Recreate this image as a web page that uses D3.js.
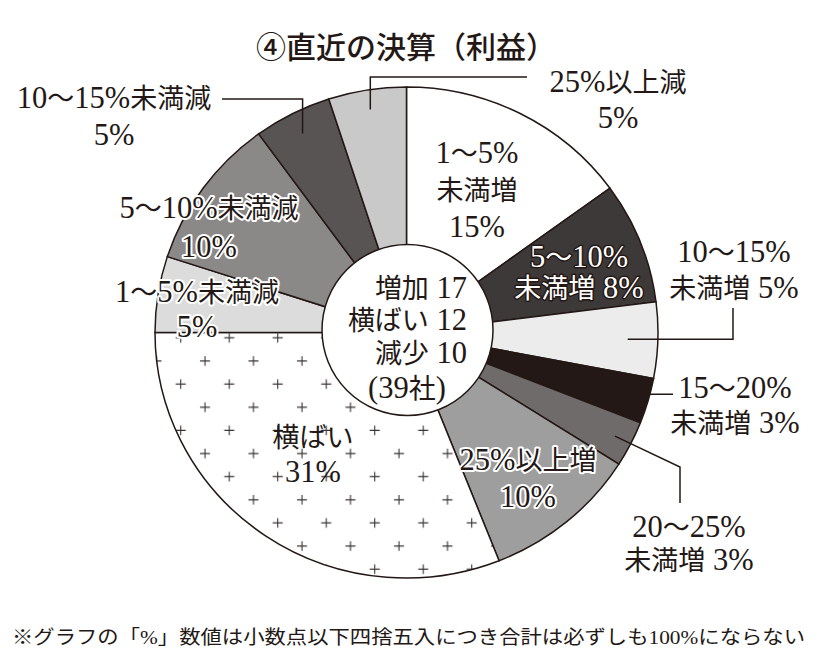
<!DOCTYPE html>
<html><head><meta charset="utf-8">
<script src="https://cdn.jsdelivr.net/npm/d3@7"></script>
<style>
html,body{margin:0;padding:0;background:#fff;}
svg{display:block;}
</style></head>
<body>
<svg id="chart" width="820" height="664"></svg>
<script>
// ---- data ----
const title = "④直近の決算（利益）";
const categories = ["1～5%未満増","5～10%未満増","10～15%未満増","15～20%未満増","20～25%未満増","25%以上増","横ばい","1～5%未満減","5～10%未満減","10～15%未満減","25%以上減"];
const percents = [15, 8, 5, 3, 3, 10, 31, 5, 10, 5, 5];
const groupNames = ["増加", "横ばい", "減少"];
const groupCounts = [17, 12, 10];
const totalCompanies = 39;
const footnote = "※グラフの「%」数値は小数点以下四捨五入につき合計は必ずしも100%にならない";

// ---- styles / layout ----
const serif = "'Liberation Serif','Noto Sans CJK JP',serif";
const fills = ["#ffffff","#3e3939","#ececec","#231815","#6f6b6a","#9e9e9e","url(#plus)","#dcdcdc","#8b8888","#585454","#c9c9c9"];
const ink = "#231815";
const cx = 406.5, cy = 332.5, rx = 251.5, ry = 245.5;
const labelLayout = [
  {x:477, y:153, gap:37, mode:"C", style:"plain"},
  {x:579, y:257, gap:31, mode:"A", style:"inv"},
  {x:734, y:252, gap:36, mode:"A", style:"plain"},
  {x:735, y:388, gap:35, mode:"A", style:"plain"},
  {x:689, y:527, gap:33, mode:"A", style:"plain"},
  {x:528, y:460, gap:37, mode:"B", style:"halo"},
  {x:313, y:437, gap:35, mode:"B", style:"plain"},
  {x:197, y:292, gap:35, mode:"B", style:"halo"},
  {x:209, y:208, gap:39, mode:"B", style:"halo"},
  {x:114, y:98,  gap:37, mode:"B", style:"plain"},
  {x:618, y:82,  gap:36, mode:"B", style:"plain"}
];
const leaders = [
  {i:10, f:0.92, pts:[["start",77],[527,77]]},
  {i:9,  f:0.91, pts:[["start",99],[222,99]]},
  {i:2,  f:0.88, pts:[[733,"start"],[733,308]]},
  {i:3,  f:0.90, pts:[[673,"start"]]},
  {i:4,  f:0.93, pts:[[680,467],[680,503]]}
];

const svg = d3.select("#chart");
const defs = svg.append("defs");
const pat = defs.append("pattern").attr("id","plus").attr("patternUnits","userSpaceOnUse")
  .attr("width",48.5).attr("height",47.4)
  .attr("x",(205-cx)-12).attr("y",(361-cy)/(ry/rx)-12);
pat.append("rect").attr("width",48.5).attr("height",47.4).attr("fill","#fff");
[[12,12],[36.25,35.7]].forEach(([px,py])=>{
  pat.append("path").attr("d",`M${px-5},${py}H${px+5}M${px},${py-5}V${py+5}`)
    .attr("stroke","#3a3433").attr("stroke-width",1.1).attr("fill","none");
});

const data = categories.map((c,i)=>({cat:c, pct:percents[i], i}));
const pie = d3.pie().sort(null).value(d=>d.pct);
const arcs = pie(data);
const arc = d3.arc().innerRadius(0).outerRadius(rx);

const g = svg.append("g").attr("transform",`translate(${cx},${cy}) scale(1,${ry/rx})`);
g.selectAll("path.slice").data(arcs).join("path").attr("class","slice")
  .attr("d",arc).attr("fill",(d,i)=>fills[i])
  .attr("stroke",ink).attr("stroke-width",1.5).attr("vector-effect","non-scaling-stroke");

function pointAt(a, f){
  const ang = (a.startAngle + a.endAngle)/2;
  return [cx + rx*f*Math.sin(ang), cy - ry*f*Math.cos(ang)];
}
leaders.forEach(L=>{
  const s = pointAt(arcs[L.i], L.f);
  const pts = [s].concat(L.pts.map(([x,y])=>[x==="start"?s[0]:x, y==="start"?s[1]:y]));
  svg.append("path").attr("d", d3.line()(pts)).attr("fill","none")
    .attr("stroke",ink).attr("stroke-width",1.5);
});

svg.append("circle").attr("cx",407.5).attr("cy",330).attr("r",85.5)
  .attr("fill","#fff").attr("stroke",ink).attr("stroke-width",1.5);

// write one line: latin runs (digits, %, parens, space) slightly larger
const fs = 27, latinScale = 1.13;
function writeLine(t, str, x, yc){
  const runs = str.match(/[0-9%() ]+|[^0-9%() ]+/g);
  runs.forEach((r,k)=>{
    const sp = t.append("tspan").attr("font-size", /[0-9%()]/.test(r) ? fs*latinScale : fs).text(r);
    if (k === 0) sp.attr("x", x).attr("y", yc + fs*0.36);
  });
}
function linesFor(i){
  const c = categories[i], p = percents[i] + "%", m = labelLayout[i].mode;
  const k = c.indexOf("%") + 1;
  if (m === "C") return [c.slice(0,k), c.slice(k), p];
  if (m === "A") return [c.slice(0,k), c.slice(k) + " " + p];
  return [c, p];
}
arcs.forEach((a,i)=>{
  const L = labelLayout[i];
  const t = svg.append("text").attr("text-anchor","middle").attr("font-size",fs)
    .attr("font-family",serif).attr("fill",ink);
  if (L.style === "halo") t.attr("stroke","#fff").attr("stroke-width",4).attr("stroke-linejoin","round").attr("paint-order","stroke");
  if (L.style === "inv") t.attr("fill","#fff").attr("stroke",ink).attr("stroke-width",3).attr("stroke-linejoin","round").attr("paint-order","stroke");
  linesFor(i).forEach((ln,j)=> writeLine(t, ln, L.x, L.y + j*L.gap));
});

groupNames.forEach((n,j)=>{
  const t = svg.append("text").attr("font-size",fs).attr("font-family",serif).attr("fill",ink).attr("text-anchor","end");
  writeLine(t, n + " " + groupCounts[j], 467, 288 + j*32.5);
});
const tt = svg.append("text").attr("font-size",fs).attr("font-family",serif).attr("fill",ink).attr("text-anchor","middle");
writeLine(tt, "(" + totalCompanies + "社)", 407, 388);

svg.append("text").attr("x",406).attr("y",47).attr("dy","0.36em").attr("text-anchor","middle")
  .attr("font-size",30).attr("font-weight",500).attr("fill",ink)
  .attr("font-family","'Noto Sans CJK JP',sans-serif").text(title);

svg.append("text").attr("x",12).attr("y",637).attr("dy","0.36em").attr("font-size",19)
  .attr("font-family",serif).attr("fill",ink)
  .attr("textLength",793).attr("lengthAdjust","spacingAndGlyphs").text(footnote);
</script>
</body></html>
